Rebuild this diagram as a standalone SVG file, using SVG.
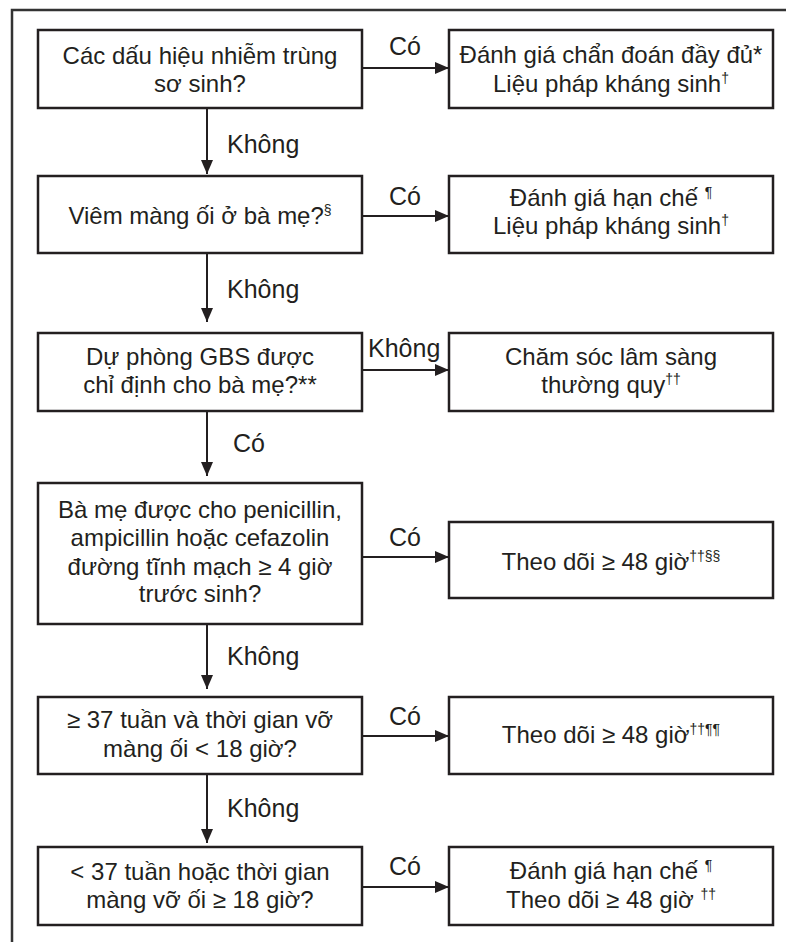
<svg xmlns="http://www.w3.org/2000/svg" width="786" height="942" viewBox="0 0 786 942">
<defs>
<style>
.box{fill:#fff;stroke:#231f20;stroke-width:2.5}
.t{font-family:"Liberation Sans",Arial,sans-serif;font-size:24px;fill:#231f20;text-anchor:middle}
.lb{font-family:"Liberation Sans",Arial,sans-serif;font-size:25px;fill:#231f20}
.sup{font-size:14px}
.ln{stroke:#231f20;stroke-width:2;fill:none}
</style>
<marker id="ah" markerWidth="14" markerHeight="12" refX="14" refY="6" orient="auto" markerUnits="userSpaceOnUse">
<path d="M0,0 L14,6 L0,12 Z" fill="#231f20"/>
</marker>
</defs>
<rect width="786" height="942" fill="#fff"/>
<path d="M12,942 L12,10 L786,10" fill="none" stroke="#333" stroke-width="2.5"/>

<g id="q1">
<rect class="box" x="38" y="30" width="324" height="78"/>
<text class="t" x="200" y="64">Các dấu hiệu nhiễm trùng</text>
<text class="t" x="200" y="92">sơ sinh?</text>
</g>
<g id="a1">
<rect class="box" x="449" y="30" width="324" height="78"/>
<text class="t" x="611" y="63">Đánh giá chẩn đoán đầy đủ*</text>
<text class="t" x="611" y="92">Liệu pháp kháng sinh<tspan class="sup" dy="-9">†</tspan></text>
</g>

<g id="q2">
<rect class="box" x="38" y="176" width="324" height="77"/>
<text class="t" x="200" y="224">Viêm màng ối ở bà mẹ?<tspan class="sup" dy="-9">§</tspan></text>
</g>
<g id="a2">
<rect class="box" x="449" y="176" width="324" height="77"/>
<text class="t" x="611" y="206">Đánh giá hạn chế <tspan class="sup" dy="-9">¶</tspan></text>
<text class="t" x="611" y="234">Liệu pháp kháng sinh<tspan class="sup" dy="-9">†</tspan></text>
</g>

<g id="q3">
<rect class="box" x="38" y="333" width="324" height="78"/>
<text class="t" x="200" y="365">Dự phòng GBS được</text>
<text class="t" x="200" y="393">chỉ định cho bà mẹ?**</text>
</g>
<g id="a3">
<rect class="box" x="449" y="333" width="324" height="78"/>
<text class="t" x="611" y="365">Chăm sóc lâm sàng</text>
<text class="t" x="611" y="393">thường quy<tspan class="sup" dy="-9">††</tspan></text>
</g>

<g id="q4">
<rect class="box" x="38" y="483" width="324" height="141"/>
<text class="t" x="200" y="518">Bà mẹ được cho penicillin,</text>
<text class="t" x="200" y="546">ampicillin hoặc cefazolin</text>
<text class="t" x="200" y="575">đường tĩnh mạch ≥ 4 giờ</text>
<text class="t" x="200" y="602">trước sinh?</text>
</g>
<g id="a4">
<rect class="box" x="449" y="522" width="324" height="76"/>
<text class="t" x="611" y="570">Theo dõi ≥ 48 giờ<tspan class="sup" dy="-9">††§§</tspan></text>
</g>

<g id="q5">
<rect class="box" x="38" y="697" width="324" height="77"/>
<text class="t" x="200" y="728">≥ 37 tuần và thời gian vỡ</text>
<text class="t" x="200" y="757">màng ối &lt; 18 giờ?</text>
</g>
<g id="a5">
<rect class="box" x="449" y="697" width="324" height="77"/>
<text class="t" x="611" y="743">Theo dõi ≥ 48 giờ<tspan class="sup" dy="-9">††¶¶</tspan></text>
</g>

<g id="q6">
<rect class="box" x="38" y="847" width="324" height="78"/>
<text class="t" x="200" y="880">&lt; 37 tuần hoặc thời gian</text>
<text class="t" x="200" y="908">màng vỡ ối ≥ 18 giờ?</text>
</g>
<g id="a6">
<rect class="box" x="449" y="847" width="324" height="78"/>
<text class="t" x="611" y="879">Đánh giá hạn chế <tspan class="sup" dy="-9">¶</tspan></text>
<text class="t" x="611" y="908">Theo dõi ≥ 48 giờ <tspan class="sup" dy="-9">††</tspan></text>
</g>

<g id="connectors">
<line class="ln" x1="362" y1="68" x2="449" y2="68" marker-end="url(#ah)"/>
<line class="ln" x1="362" y1="216" x2="449" y2="216" marker-end="url(#ah)"/>
<line class="ln" x1="362" y1="370" x2="449" y2="370" marker-end="url(#ah)"/>
<line class="ln" x1="362" y1="557" x2="449" y2="557" marker-end="url(#ah)"/>
<line class="ln" x1="362" y1="736" x2="449" y2="736" marker-end="url(#ah)"/>
<line class="ln" x1="362" y1="887" x2="449" y2="887" marker-end="url(#ah)"/>
<line class="ln" x1="207" y1="108" x2="207" y2="174" marker-end="url(#ah)"/>
<line class="ln" x1="207" y1="253" x2="207" y2="322" marker-end="url(#ah)"/>
<line class="ln" x1="207" y1="411" x2="207" y2="476" marker-end="url(#ah)"/>
<line class="ln" x1="207" y1="624" x2="207" y2="689" marker-end="url(#ah)"/>
<line class="ln" x1="207" y1="774" x2="207" y2="843" marker-end="url(#ah)"/>
<text class="lb" x="389" y="55">Có</text>
<text class="lb" x="389" y="205">Có</text>
<text class="lb" x="368" y="357">Không</text>
<text class="lb" x="389" y="546">Có</text>
<text class="lb" x="389" y="725">Có</text>
<text class="lb" x="389" y="875">Có</text>
<text class="lb" x="227" y="153">Không</text>
<text class="lb" x="227" y="298">Không</text>
<text class="lb" x="233" y="452">Có</text>
<text class="lb" x="227" y="665">Không</text>
<text class="lb" x="227" y="817">Không</text>
</g>
</svg>
